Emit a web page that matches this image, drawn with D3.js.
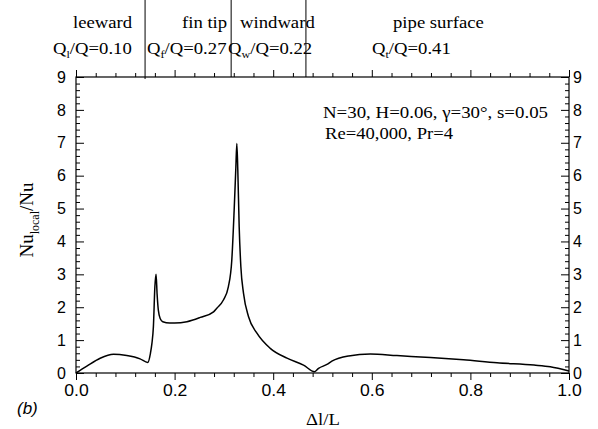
<!DOCTYPE html>
<html><head><meta charset="utf-8">
<script src="https://cdn.jsdelivr.net/npm/d3@7"></script>
<style>body{margin:0;background:#fff}svg{display:block}</style>
</head><body>
<svg id="c" width="598" height="429"></svg>
<script>
// Data
const xVals = [0,0.022,0.049,0.076,0.103,0.13,0.1455,0.151,0.154,0.157,0.160,0.1624,0.1645,0.167,0.171,0.176,0.19,0.2,0.225,0.252,0.279,0.2856,0.299,0.309,0.316,0.3208,0.3243,0.3262,0.3282,0.331,0.3344,0.3398,0.35,0.367,0.394,0.428,0.4615,0.484,0.492,0.509,0.519,0.553,0.597,0.651,0.719,0.786,0.854,0.929,0.962,1.0];
const yVals = [0,0.21,0.45,0.57,0.53,0.43,0.32,0.6,0.90,1.41,2.62,3.0,2.4,1.91,1.65,1.56,1.52,1.52,1.56,1.69,1.86,1.97,2.22,2.62,3.43,4.95,6.27,6.98,6.17,4.45,3.23,2.42,1.71,1.21,0.75,0.45,0.24,0.04,0.14,0.26,0.36,0.52,0.58,0.53,0.47,0.40,0.31,0.24,0.19,0.06];
const xTicks = [0,0.2,0.4,0.6,0.8,1.0];
const yTicks = [0,1,2,3,4,5,6,7,8,9];
const boundaries = [0.1401,0.3147,0.4664];
const regionNames = ["leeward","fin tip","windward","pipe surface"];
const qSubs = ["l","f","w","t"];
const qVals = ["0.10","0.27","0.22","0.41"];
const paramLines = ["N=30, H=0.06, \u03b3=30\u00b0, s=0.05","Re=40,000, Pr=4"];

const svg = d3.select("#c");
const L=76, R=569, T=77, B=373;
const x = d3.scaleLinear().domain([0,1]).range([L,R]);
const y = d3.scaleLinear().domain([0,9]).range([B,T]);
const sans = "'Liberation Sans', Arial, sans-serif";
const serif = "'Liberation Serif', 'Times New Roman', serif";

// minor ticks
const xMinor = d3.range(0,1.0001,0.04).filter(v=>Math.abs(v*5-Math.round(v*5))>1e-6);
const yMinor = d3.range(0,9.0001,0.2).filter(v=>Math.abs(v-Math.round(v))>1e-6);

function styleAxis(g){ g.select(".domain").remove(); g.selectAll("line").attr("stroke","#000").attr("stroke-width",1);
  g.selectAll("text").attr("font-family",sans).attr("font-size",16).attr("fill","#000"); }

// bottom
svg.append("g").attr("transform",`translate(0,${B})`).call(d3.axisBottom(x).tickValues(xTicks).tickSize(7).tickPadding(5).tickFormat(d3.format(".1f"))).call(styleAxis)
  .selectAll("text").attr("dy","0.71em").attr("transform","scale(1.1,1)");
svg.append("g").attr("transform",`translate(0,${B})`).call(d3.axisBottom(x).tickValues(xMinor).tickSize(4).tickFormat("")).call(styleAxis);
// top
svg.append("g").attr("transform",`translate(0,${T})`).call(d3.axisTop(x).tickValues(xTicks).tickSize(7).tickFormat("")).call(styleAxis);
svg.append("g").attr("transform",`translate(0,${T})`).call(d3.axisTop(x).tickValues(xMinor).tickSize(4).tickFormat("")).call(styleAxis);
// left
svg.append("g").attr("transform",`translate(${L},0)`).call(d3.axisLeft(y).tickValues(yTicks).tickSize(-8).tickPadding(10).tickFormat(d3.format("d"))).call(styleAxis);
svg.append("g").attr("transform",`translate(${L},0)`).call(d3.axisLeft(y).tickValues(yMinor).tickSize(-4).tickFormat("")).call(styleAxis);
// right
svg.append("g").attr("transform",`translate(${R},0)`).call(d3.axisRight(y).tickValues(yTicks).tickSize(-8).tickPadding(4).tickFormat(d3.format("d"))).call(styleAxis);
svg.append("g").attr("transform",`translate(${R},0)`).call(d3.axisRight(y).tickValues(yMinor).tickSize(-4).tickFormat("")).call(styleAxis);

// frame
svg.append("rect").attr("x",L).attr("y",T).attr("width",R-L).attr("height",B-T).attr("fill","none").attr("stroke","#000").attr("stroke-width",1.2);

// boundaries
svg.selectAll(".bnd").data(boundaries).join("line").attr("class","bnd")
  .attr("x1",d=>x(d)).attr("x2",d=>x(d)).attr("y1",0).attr("y2",(d,i)=>i===0?T+2:T)
  .attr("stroke","#000").attr("stroke-width",1);

// curve
const pts = xVals.map((v,i)=>[v,yVals[i]]);
svg.append("path").datum(pts)
  .attr("d",d3.line().x(d=>x(d[0])).y(d=>y(d[1])).curve(d3.curveMonotoneX))
  .attr("fill","none").attr("stroke","#000").attr("stroke-width",1.5);

// top labels
const nameX = [73,182,240,393];
const qX = [53,147,228,372];
regionNames.forEach((n,i)=>{
  svg.append("text").attr("transform",`translate(${nameX[i]},28) scale(1.1,1)`)
    .attr("font-family",serif).attr("font-size",17).text(n);
  const t = svg.append("text").attr("transform",`translate(${qX[i]},54) scale(1.1,1)`)
    .attr("font-family",serif).attr("font-size",17);
  t.append("tspan").text("Q");
  t.append("tspan").attr("font-size",11).attr("dy",4).text(qSubs[i]);
  t.append("tspan").attr("dy",-4).text("/Q="+qVals[i]);
});

// params
svg.append("text").attr("x",323).attr("y",118).attr("font-family",serif).attr("font-size",16)
  .attr("textLength",225).attr("lengthAdjust","spacingAndGlyphs").text(paramLines[0]);
svg.append("text").attr("x",325).attr("y",139).attr("font-family",serif).attr("font-size",16)
  .attr("textLength",128).attr("lengthAdjust","spacingAndGlyphs").text(paramLines[1]);

// axis titles
svg.append("text").attr("transform","translate(323,425) scale(1.1,1)").attr("text-anchor","middle")
  .attr("font-family",serif).attr("font-size",17).text("\u0394l/L");
const yl = svg.append("text").attr("transform","translate(33,220) rotate(-90)").attr("text-anchor","middle")
  .attr("font-family",serif).attr("font-size",19);
yl.append("tspan").text("Nu");
yl.append("tspan").attr("font-size",12).attr("dy",6).text("local");
yl.append("tspan").attr("dy",-6).text("/Nu");

svg.append("text").attr("x",17).attr("y",414).attr("font-family",sans).attr("font-style","italic").attr("font-size",17).text("(b)");
</script>
</body></html>
